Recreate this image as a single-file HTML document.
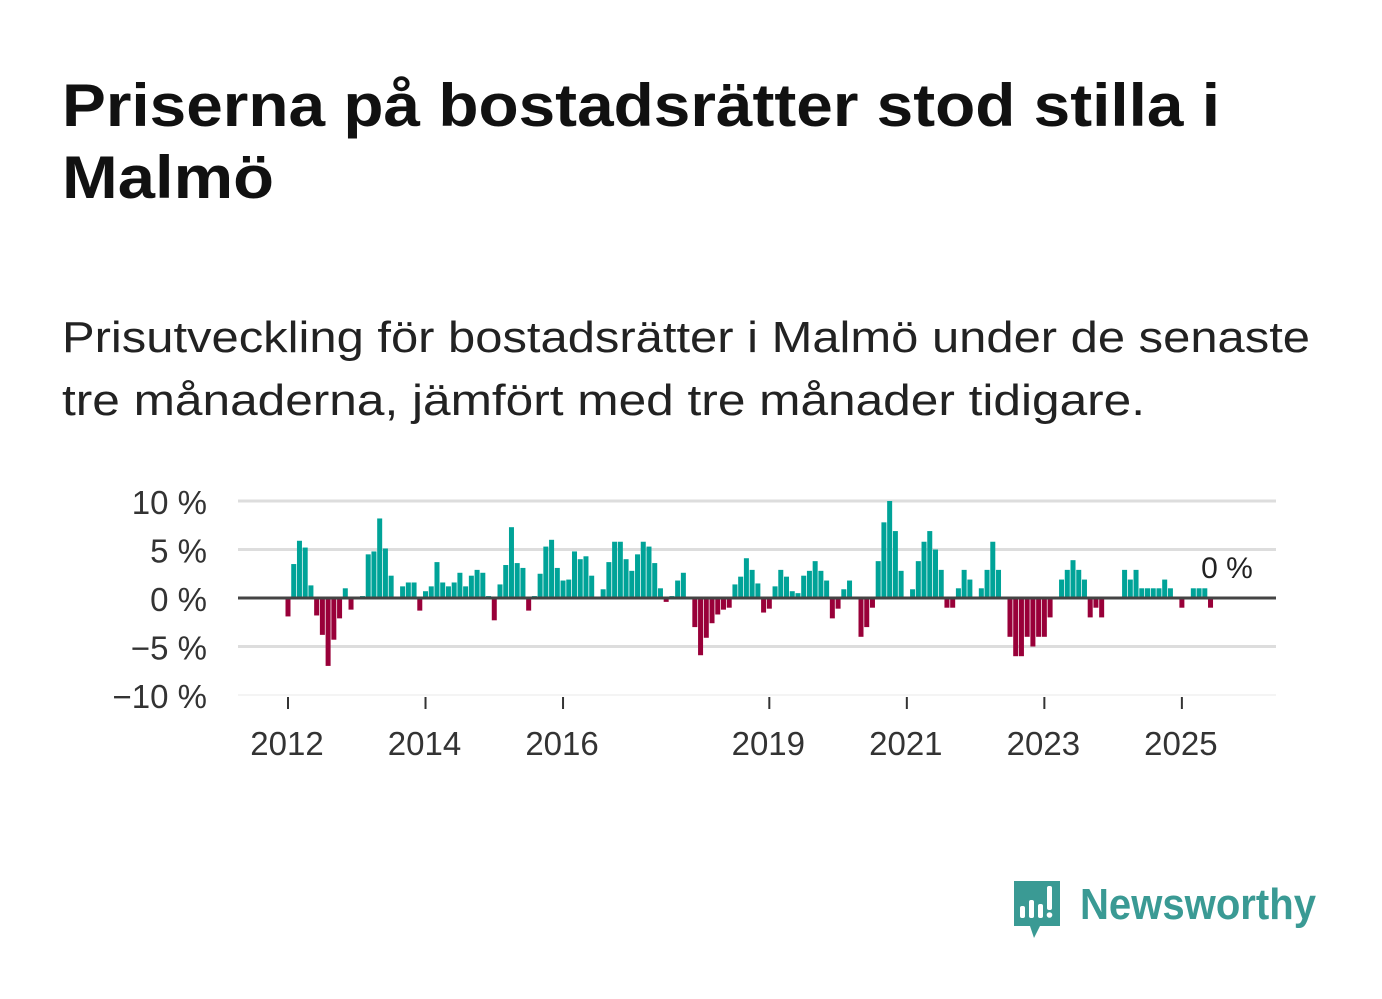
<!DOCTYPE html>
<html><head><meta charset="utf-8"><style>
html,body{margin:0;padding:0;background:#fff;}
svg{display:block;font-family:"Liberation Sans",sans-serif;}
</style></head><body>
<svg width="1382" height="999" viewBox="0 0 1382 999">
<text x="62" y="126" font-size="60" font-weight="bold" fill="#111" textLength="1158" lengthAdjust="spacingAndGlyphs">Priserna på bostadsrätter stod stilla i</text>
<text x="62" y="198" font-size="60" font-weight="bold" fill="#111" textLength="212" lengthAdjust="spacingAndGlyphs">Malmö</text>
<text x="62" y="352" font-size="44" fill="#222" textLength="1248" lengthAdjust="spacingAndGlyphs">Prisutveckling för bostadsrätter i Malmö under de senaste</text>
<text x="62" y="415" font-size="44" fill="#222" textLength="1083" lengthAdjust="spacingAndGlyphs">tre månaderna, jämfört med tre månader tidigare.</text>
<g id="plot"></g>
<g>
<path d="M1014 881 H1060 V926 H1040 L1034 938 L1030 926 H1014 Z" fill="#3a9a94"/>
<rect x="1020" y="906" width="5" height="12" rx="2" fill="#fff"/>
<rect x="1029" y="900" width="5" height="18" rx="2" fill="#fff"/>
<rect x="1038" y="904" width="5" height="14" rx="2" fill="#fff"/>
<rect x="1047" y="886" width="5" height="24" rx="2" fill="#fff"/>
<circle cx="1049.5" cy="915" r="2.8" fill="#fff"/>
<text x="1080" y="919" font-size="44" font-weight="bold" fill="#3a9a94" textLength="236" lengthAdjust="spacingAndGlyphs">Newsworthy</text>
</g>
</svg>
<script>
const values = [
-1.9,3.5,5.9,5.2,1.3,-1.8,-3.8,-7.0,-4.3,-2.1,1.0,-1.2,
0,0.2,4.5,4.8,8.2,5.1,2.3,0,1.2,1.6,1.6,-1.3,
0.7,1.2,3.7,1.6,1.2,1.6,2.6,1.2,2.3,2.9,2.6,0.2,
-2.3,1.4,3.4,7.3,3.6,3.1,-1.3,0.2,2.5,5.3,6.0,3.1,
1.8,1.9,4.8,4.0,4.3,
2.3,0,0.9,3.7,5.8,5.8,4.0,2.8,4.5,5.8,5.3,3.6,
1.0,-0.4,0.2,1.8,2.6,0,-3.0,-5.9,-4.1,-2.6,-1.7,-1.2,
-1.0,1.4,2.2,4.1,2.9,1.5,-1.5,-1.1,1.2,2.9,2.2,0.7,
0.5,2.3,2.8,3.8,2.8,1.8,-2.1,-1.1,0.9,1.8,0,-4.0,
-3.0,-1.0,3.8,7.8,10.0,6.9,2.8,0,0.9,3.8,5.8,6.9,
5.0,2.9,-1.0,-1.0,1.0,2.9,1.9,0,1.0,2.9,5.8,2.9,
0,-4.0,-6.0,-6.0,-4.0,-5.0,-4.0,-4.0,-2.0,0,1.9,2.9,
3.9,2.9,1.9,-2.0,-1.0,-2.0,0,0,0,2.9,1.9,2.9,
1.0,1.0,1.0,1.0,1.9,1.0,0,-1.0,0,1.0,1.0,1.0,-1.0
];
const startYear = 2012;
const yTicks = [10,5,0,-5,-10];
const yTickLabels = ["10 %","5 %","0 %","\u22125 %","\u221210 %"];
const xTickYears = [2012,2014,2016,2019,2021,2023,2025];
const lastLabel = "0 %";

const NS="http://www.w3.org/2000/svg";
const g=document.getElementById('plot');
const X0=238,X1=1276;
const yScale=v=>598-v*9.7;
const xScale=m=>288+m*5.73; // months since Jan 2012
function el(t,a){const e=document.createElementNS(NS,t);for(const k in a)e.setAttribute(k,a[k]);g.appendChild(e);return e;}
yTicks.forEach((t,i)=>{
  if(t!==0){
    const l=el('line',{x1:X0,x2:X1,y1:yScale(t),y2:yScale(t),stroke:t===-10?'#e8e8e8':'#dddddd','stroke-width':t===-10?1:3});
    
    
  }
  const tx=el('text',{x:207,y:yScale(t)+13,'text-anchor':'end','font-size':33,fill:'#333'});
  tx.textContent=yTickLabels[i];
  
  
});
values.forEach((v,i)=>{
  const y=v>=0?yScale(v):yScale(0);
  const h=Math.abs(yScale(v)-yScale(0));
  const r=el('rect',{x:xScale(i)-2.5,y:y,width:5,height:h,fill:v>=0?'#00a398':'#990039'});
  
  
});
const z=el('line',{x1:X0,x2:X1,y1:yScale(0),y2:yScale(0),stroke:'#444','stroke-width':3});


xTickYears.forEach(yr=>{
  const x=xScale((yr-startYear)*12);
  const t=el('line',{x1:x,x2:x,y1:697,y2:709,stroke:'#333','stroke-width':2});
  
  
  const tx=el('text',{x:x-1,y:755,'text-anchor':'middle','font-size':33,fill:'#333'});
  tx.textContent=yr;
  
  
});
const ll=el('text',{x:1227,y:578,'text-anchor':'middle','font-size':30,fill:'#222'});
ll.textContent=lastLabel;


</script>
</body></html>
